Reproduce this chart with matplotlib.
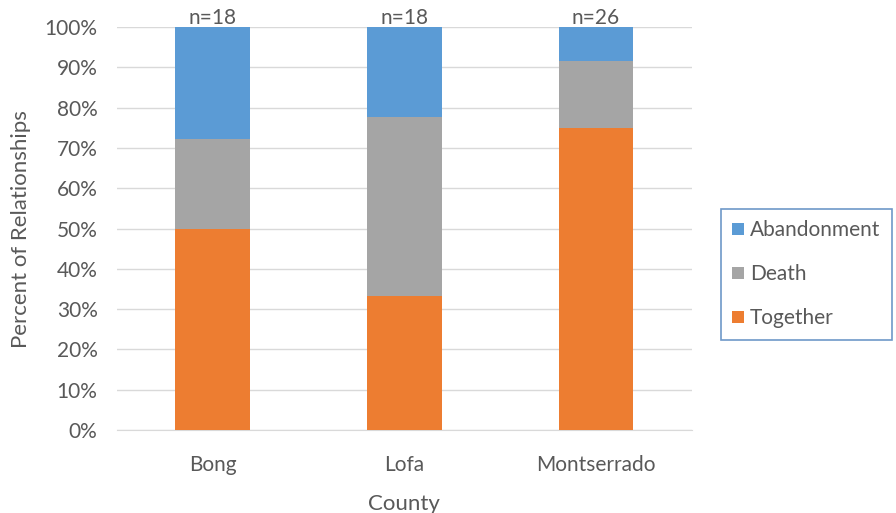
import matplotlib.pyplot as plt
import numpy as np

plt.rcParams['font.family'] = ['Lato', 'DejaVu Sans']

counties = ['Bong', 'Lofa', 'Montserrado']
n_labels = ['n=18', 'n=18', 'n=26']
together = [50.0, 33.3, 75.0]
death = [22.2, 44.4, 16.7]
abandonment = [27.8, 22.3, 8.3]

txt = '#595959'
fig = plt.figure(figsize=(8.96, 5.13), dpi=100)
ax = fig.add_axes([0.1306, 0.1618, 0.6414, 0.7852])

x = np.arange(len(counties))
w = 0.39
ax.bar(x, together, w, color='#ed7d31', label='Together', zorder=3)
ax.bar(x, death, w, bottom=together, color='#a5a5a5', label='Death', zorder=3)
bottom2 = np.array(together) + np.array(death)
ax.bar(x, abandonment, w, bottom=bottom2, color='#5b9bd5', label='Abandonment', zorder=3)

for xi, lab in zip(x, n_labels):
    ax.text(xi, 99.8, lab, ha='center', va='bottom', fontsize=15, color=txt)

ax.set_xlim(-0.5, 2.5)
ax.set_ylim(0, 100)
ax.set_yticks(range(0, 101, 10))
ax.set_yticklabels([f'{v}%' for v in range(0, 101, 10)])
ax.set_xticks(x)
ax.set_xticklabels(counties)
ax.yaxis.grid(True, color='#d9d9d9', linewidth=1, zorder=0)
ax.tick_params(length=0, labelsize=15, labelcolor=txt)
ax.tick_params(axis='x', pad=18)
ax.tick_params(axis='y', pad=14)
for s in ['top', 'right', 'left']:
    ax.spines[s].set_visible(False)
ax.spines['bottom'].set_color('#d9d9d9')
ax.set_xlabel('County', fontsize=16, color=txt, labelpad=14)
ax.set_ylabel('Percent of Relationships', fontsize=16, color=txt, labelpad=10)

handles, labels = ax.get_legend_handles_labels()
leg = fig.legend(handles[::-1], labels[::-1], loc='center left',
                 bbox_to_anchor=(0.793, 0.465), fontsize=15, frameon=True,
                 fancybox=False, handlelength=0.55, handleheight=0.55,
                 handletextpad=0.3, labelspacing=1.15, borderpad=0.55)
leg.get_frame().set_edgecolor('#4a7ebb')
leg.get_frame().set_linewidth(1.2)
for t in leg.get_texts():
    t.set_color(txt)

fig.savefig('out.png', dpi=100)
